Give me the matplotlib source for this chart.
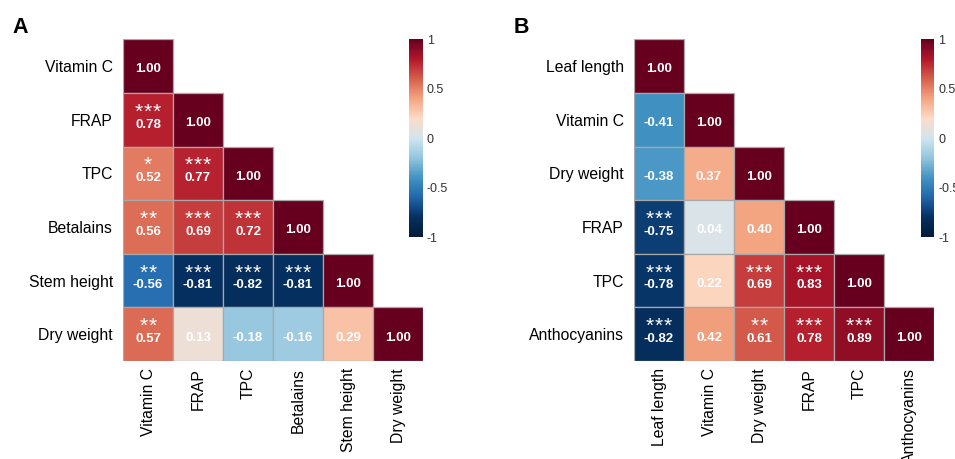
import numpy as np
import matplotlib
matplotlib.use("Agg")
import matplotlib.pyplot as plt
from matplotlib.colors import LinearSegmentedColormap, Normalize
from matplotlib.cm import ScalarMappable
from matplotlib.patches import Rectangle

plt.rcParams['font.family'] = ['Liberation Sans', 'DejaVu Sans']

# ---------------- data ----------------
vars_A = ["Vitamin C", "FRAP", "TPC", "Betalains", "Stem height", "Dry weight"]
corr_A = [
    [1.00],
    [0.78, 1.00],
    [0.52, 0.77, 1.00],
    [0.56, 0.69, 0.72, 1.00],
    [-0.56, -0.81, -0.82, -0.81, 1.00],
    [0.57, 0.13, -0.18, -0.16, 0.29, 1.00],
]
stars_A = [
    [""],
    ["***", ""],
    ["*", "***", ""],
    ["**", "***", "***", ""],
    ["**", "***", "***", "***", ""],
    ["**", "", "", "", "", ""],
]

vars_B = ["Leaf length", "Vitamin C", "Dry weight", "FRAP", "TPC", "Anthocyanins"]
corr_B = [
    [1.00],
    [-0.41, 1.00],
    [-0.38, 0.37, 1.00],
    [-0.75, 0.04, 0.40, 1.00],
    [-0.78, 0.22, 0.69, 0.83, 1.00],
    [-0.82, 0.42, 0.61, 0.78, 0.89, 1.00],
]
stars_B = [
    [""],
    ["", ""],
    ["", "", ""],
    ["***", "", "", ""],
    ["***", "", "***", "***", ""],
    ["***", "", "**", "***", "***", ""],
]

cbar_ticks = [-1, -0.5, 0, 0.5, 1]
cbar_labels = ["-1", "-0.5", "0", "0.5", "1"]

# ---------------- colormap ----------------
cmap = LinearSegmentedColormap.from_list("corr", [
    (0.0, "#031B38"), (0.1, "#053061"), (0.2, "#2166AC"), (0.3, "#4393C3"),
    (0.4, "#92C5DE"), (0.5, "#D1E5F0"), (0.6, "#FDDBC7"), (0.7, "#F4A582"),
    (0.8, "#D6604D"), (0.9, "#B2182B"), (1.0, "#67001F")], N=256)
norm = Normalize(-1, 1)

W, H = 955, 459
fig = plt.figure(figsize=(W / 100, H / 100), dpi=100)


def px_axes(x0, y0, x1, y1):
    return fig.add_axes([x0 / W, 1 - y1 / H, (x1 - x0) / W, (y1 - y0) / H])


def draw_panel(ax, names, corr, stars):
    n = len(names)
    for i, row in enumerate(corr):
        for j, v in enumerate(row):
            ax.add_patch(Rectangle((j, i), 1, 1, facecolor=cmap(norm(v)),
                                   edgecolor="#A8A8A8", linewidth=0.9))
            s = stars[i][j]
            if s:
                k = len(s)
                for m in range(k):
                    dx = (m - (k - 1) / 2) * 0.18
                    ax.text(j + 0.5 + dx, i + 0.46, "*", ha="center", va="baseline",
                            color="white", fontsize=15)
                yb = i + 0.646
            else:
                yb = i + 0.618
            ax.text(j + 0.5, yb, f"{v:.2f}", ha="center", va="baseline",
                    color="white", fontsize=9.5, fontweight="bold")
    ax.set_xlim(0, n)
    ax.set_ylim(n, 0)
    ax.set_xticks(np.arange(n) + 0.5)
    ax.set_xticklabels(names, rotation=90, fontsize=11.3)
    ax.set_yticks(np.arange(n) + 0.5)
    ax.set_yticklabels(names, fontsize=11.3)
    ax.tick_params(length=0)
    ax.tick_params(axis="y", pad=7.2)
    ax.tick_params(axis="x", pad=5)
    for sp in ax.spines.values():
        sp.set_visible(False)


def draw_cbar(cax):
    sm = ScalarMappable(norm=norm, cmap=cmap)
    cb = fig.colorbar(sm, cax=cax, ticks=cbar_ticks)
    cb.set_ticklabels(cbar_labels)
    cb.outline.set_visible(False)
    cax.tick_params(length=0, labelsize=9, labelcolor="#333333", pad=3)


axA = px_axes(123, 39.3, 423, 361)
draw_panel(axA, vars_A, corr_A, stars_A)
caxA = px_axes(409, 39.3, 422.7, 237)
draw_cbar(caxA)

axB = px_axes(634, 39.3, 934, 361)
draw_panel(axB, vars_B, corr_B, stars_B)
caxB = px_axes(920.7, 39.3, 934.3, 237)
draw_cbar(caxB)

fig.text(12 / W, 1 - 33 / H, "A", fontsize=15.5, fontweight="bold", ha="left", va="baseline")
fig.text(514 / W, 1 - 33 / H, "B", fontsize=15.5, fontweight="bold", ha="left", va="baseline")

fig.savefig("out.png", dpi=100)
